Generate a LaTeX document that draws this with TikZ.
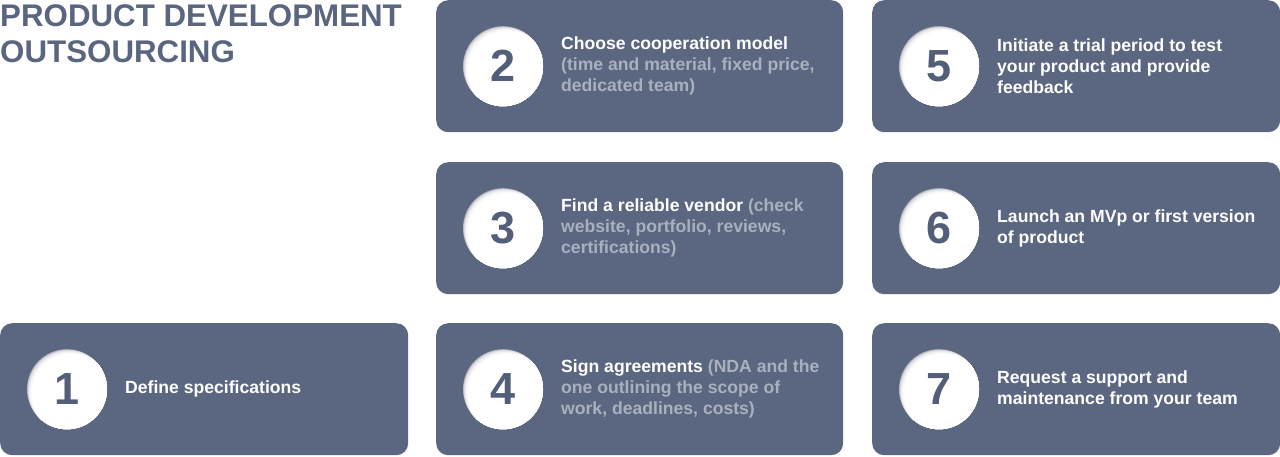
\documentclass[tikz,border=0pt]{standalone}
\usepackage{fontspec}
\setmainfont{Liberation Sans}
\definecolor{boxc}{HTML}{5B6680}
\definecolor{subc}{HTML}{A9B0BF}
\definecolor{numc}{HTML}{535E78}
\definecolor{titc}{HTML}{5A6680}
\definecolor{shc}{HTML}{AEB0B8}
\tikzset{
  card/.style={fill=boxc, rounded corners=12pt, draw=none, inner sep=0pt},
  body/.style={anchor=west, align=left, text=white, inner sep=0pt,
    font=\bfseries\fontsize{17.6}{20.8}\selectfont},
  num/.style={text=numc, inner sep=0pt, font=\bfseries\fontsize{45}{45}\selectfont},
  ttl/.style={anchor=base west, inner sep=0pt, text=titc,
    font=\bfseries\fontsize{31.3}{36}\selectfont}
}
\newcommand\sub[1]{\textcolor{subc}{#1}}
\newcommand\mkcard[6]{%
  \node[card, minimum width=#4pt, minimum height=132pt, anchor=north west] (c#1) at (#2,#3) {};
  \path (c#1.west) ++(67,0) coordinate (o#1) ++(58,0) coordinate (t#1);
  \begin{scope}
    \clip (o#1) circle (40);
    \fill[shc] (o#1) circle (40);
    \foreach \k/\c in {0.6/40,1.2/60,1.8/72,2.4/82,3/89,3.6/94,4.2/97,4.8/100}
      \fill[white!\c!shc] ([shift={(\k,\k)}]o#1) circle (40);
  \end{scope}
  \node[num] (n#1) at (o#1) {#5};
  \node[body] (x#1) at (t#1) {#6};
}
\begin{document}
\begin{tikzpicture}[x=1pt,y=-1pt]
\useasboundingbox (0,0) rectangle (1280,456);
\node[ttl] (title1) at (0,26) {PRODUCT DEVELOPMENT};
\node[ttl] (title2) at (0,62) {OUTSOURCING};
\mkcard{1}{0}{323}{408}{1}{Define specifications}
\mkcard{2}{436}{0}{407}{2}{Choose cooperation model\\\sub{(time and material, fixed price,}\\\sub{dedicated team)}}
\mkcard{3}{436}{162}{407}{3}{Find a reliable vendor \sub{(check}\\\sub{website, portfolio, reviews,}\\\sub{certifications)}}
\mkcard{4}{436}{323}{407}{4}{Sign agreements \sub{(NDA and the}\\\sub{one outlining the scope of}\\\sub{work, deadlines, costs)}}
\mkcard{5}{872}{0}{408}{5}{Initiate a trial period to test\\your product and provide\\feedback}
\mkcard{6}{872}{162}{408}{6}{Launch an MVp or first version\\of product}
\mkcard{7}{872}{323}{408}{7}{Request a support and\\maintenance from your team}
\end{tikzpicture}
\end{document}
